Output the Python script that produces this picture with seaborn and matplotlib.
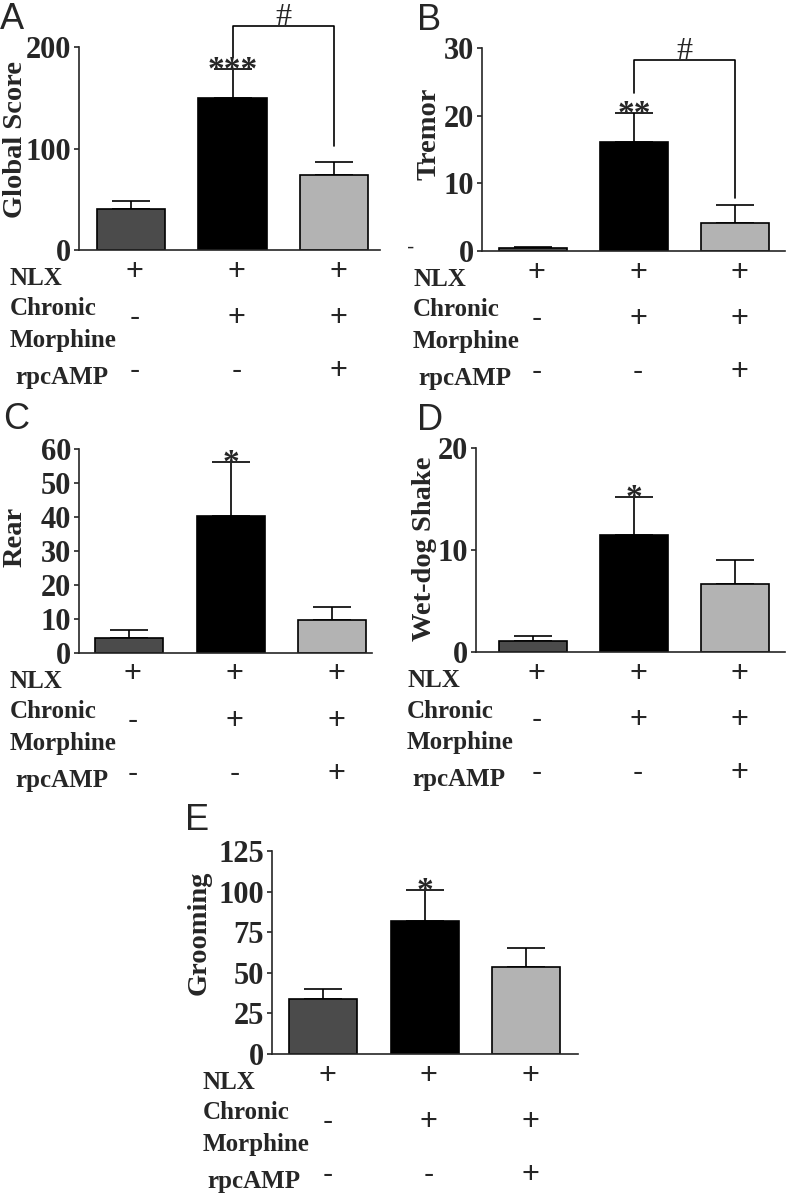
import matplotlib
matplotlib.use('Agg')
import matplotlib.pyplot as plt
import seaborn as sns
import numpy as np
import pandas as pd

sns.set_style('ticks')
# font serif in grassetto come nell'originale (Times)
plt.rcParams['font.family'] = ['Liberation Serif', 'DejaVu Serif']
plt.rcParams['axes.linewidth'] = 1.2

# gruppi e colori delle barre
gruppi = ['NLX', 'NLX + morfina', 'NLX + morfina + rpcAMP']
colori = ['#4b4b4b', '#000000', '#b3b3b3']

# righe di +/- sotto i grafici
segni_nlx = ['+', '+', '+']
segni_morfina = ['-', '+', '+']
segni_rpcamp = ['-', '-', '+']

# valori (media) e errore (SEM, solo verso l'alto)
global_media = [40.4, 150, 74]
global_err = [7.6, 28, 12.5]
tremor_media = [0.4, 16.1, 4.2]
tremor_err = [0.2, 4.3, 2.6]
rear_media = [4.4, 40.3, 9.6]
rear_err = [2.2, 15.9, 3.9]
wetdog_media = [1.1, 11.5, 6.7]
wetdog_err = [0.43, 3.7, 2.3]
grooming_media = [34, 82, 53.8]
grooming_err = [6, 18.8, 11.2]

fig = plt.figure(figsize=(7.88, 11.99), dpi=100)


def pannello(ax, media, err, etichetta, yticks, xlim, stelle, lab_x, lab_y):
    df = pd.DataFrame({'gruppo': gruppi, 'valore': media})
    sns.barplot(data=df, x='gruppo', y='valore', hue='gruppo', palette=colori,
                width=0.67, edgecolor='black', linewidth=1.2, legend=False,
                errorbar=None, ax=ax, zorder=2)
    # barre di errore solo sopra
    ax.errorbar(range(3), media, yerr=[np.zeros(3), err], fmt='none', ecolor='black',
                elinewidth=1.2, capsize=14, capthick=1.2, zorder=1)
    sns.despine(ax=ax)
    ax.set_xticks([])
    ax.set_xlabel('')
    ax.set_xlim(xlim)
    ax.set_yticks(yticks)
    ax.set_ylim(yticks[0], yticks[-1])
    ax.tick_params(axis='y', labelsize=22, length=3.6, width=1.2, pad=2)
    for lbl in ax.get_yticklabels():
        lbl.set_fontweight('bold')
    ax.set_ylabel(etichetta, fontsize=20.5, fontweight='bold')
    ax.yaxis.set_label_coords(lab_x, lab_y)

    # asterischi sopra la barra della morfina
    ax.annotate(stelle, xy=(1, media[1] + err[1]), xytext=(0, -7), textcoords='offset points',
                ha='center', va='baseline', fontsize=24, fontweight='bold')

    # righe NLX / Chronic Morphine / rpcAMP
    tr = ax.get_xaxis_transform()
    for i in range(3):
        ax.text(i + 0.04, -0.107, segni_nlx[i], transform=tr, ha='center', va='center',
                fontsize=22, family='Liberation Sans')
        ax.text(i + 0.04, -0.335, segni_morfina[i], transform=tr, ha='center', va='center',
                fontsize=22, family='Liberation Sans')
        ax.text(i + 0.04, -0.595, segni_rpcamp[i], transform=tr, ha='center', va='center',
                fontsize=22, family='Liberation Sans')
    bb = ax.get_position()
    off = -69 / (bb.width * 788)
    ax.text(off, -0.14, 'NLX', transform=ax.transAxes, ha='left', va='center',
            fontsize=18, fontweight='bold')
    ax.text(off, -0.29, 'Chronic', transform=ax.transAxes, ha='left', va='center',
            fontsize=18, fontweight='bold')
    ax.text(off, -0.445, 'Morphine', transform=ax.transAxes, ha='left', va='center',
            fontsize=18, fontweight='bold')
    ax.text(off + 5 / (bb.width * 788), -0.627, 'rpcAMP', transform=ax.transAxes, ha='left',
            va='center', fontsize=18, fontweight='bold')


def parentesi(ax, top, sin, des):
    ax.plot([1, 1, 2, 2], [sin, top, top, des], color='black', lw=1.2, clip_on=False)
    ax.annotate('#', xy=(1.5, top), xytext=(0, 0.5), textcoords='offset points',
                ha='center', va='baseline', fontsize=23, annotation_clip=False)


# A - Global score
axA = fig.add_axes([79 / 788, 1 - 250 / 1199, 301 / 788, 203 / 1199])
pannello(axA, global_media, global_err, 'Global Score', [0, 100, 200], (-0.51, 2.45),
         '***', -0.17, 0.544)
parentesi(axA, 220.7, 190, 102.5)

# B - Tremor
axB = fig.add_axes([482 / 788, 1 - 251 / 1199, 303 / 788, 203 / 1199])
pannello(axB, tremor_media, tremor_err, 'Tremor', [0, 10, 20, 30], (-0.5, 2.49),
         '**', -0.135, 0.576)
parentesi(axB, 28.2, 23.4, 7.8)
axB.text(-0.234, 0.015, '-', transform=axB.transAxes, ha='center', va='center',
         fontsize=16, family='Liberation Sans')

# C - Rear
axC = fig.add_axes([79 / 788, 1 - 652.7 / 1199, 293 / 788, 203.4 / 1199])
pannello(axC, rear_media, rear_err, 'Rear', [0, 10, 20, 30, 40, 50, 60], (-0.49, 2.39),
         '*', -0.175, 0.57)

# D - Wet-dog shake
axD = fig.add_axes([476 / 788, 1 - 652 / 1199, 309 / 788, 203.7 / 1199])
pannello(axD, wetdog_media, wetdog_err, 'Wet-dog Shake', [0, 10, 20], (-0.56, 2.49),
         '*', -0.125, 0.509)

# E - Grooming
axE = fig.add_axes([271.7 / 788, 1 - 1054 / 1199, 306.3 / 788, 203 / 1199])
pannello(axE, grooming_media, grooming_err, 'Grooming', [0, 25, 50, 75, 100, 125],
         (-0.51, 2.51), '*', -0.195, 0.596)

# lettere dei pannelli
for lettera, x, y in [('A', 0, 2), ('B', 417, 3), ('C', 3, 402), ('D', 417, 403), ('E', 185, 803)]:
    fig.text(x / 788, 1 - y / 1199, lettera, ha='left', va='top', fontsize=26,
             family='Liberation Sans')

fig.savefig('out.png', dpi=100)
